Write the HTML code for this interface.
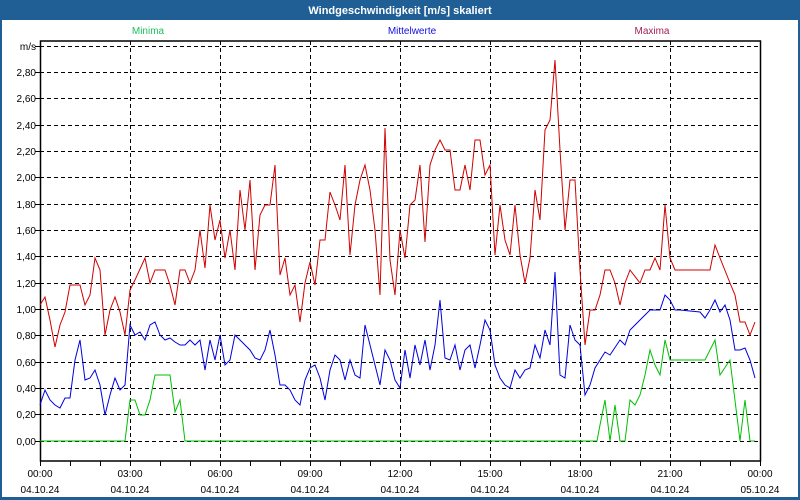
<!DOCTYPE html>
<html><head><meta charset="utf-8"><style>
body{margin:0;width:800px;height:500px;overflow:hidden;background:#fff;}
svg{display:block;font-family:"Liberation Sans",sans-serif;}
</style></head><body>
<svg width="800" height="500" viewBox="0 0 800 500">
<rect x="0" y="0" width="800" height="500" fill="#1f5f96"/>
<rect x="2" y="20" width="796" height="477" fill="#fff"/>
<text x="400" y="14" fill="#fff" font-size="11" font-weight="bold" text-anchor="middle">Windgeschwindigkeit [m/s] skaliert</text>
<text x="148" y="34" fill="#20c060" font-size="10" text-anchor="middle">Minima</text>
<text x="412" y="34" fill="#1010e0" font-size="10" text-anchor="middle">Mittelwerte</text>
<text x="652" y="34" fill="#a0205a" font-size="10" text-anchor="middle">Maxima</text>
<g stroke="#000" stroke-width="1" stroke-dasharray="4,3" fill="none">
<line x1="40" y1="46.5" x2="758" y2="46.5"/>
<line x1="40" y1="72.5" x2="758" y2="72.5"/>
<line x1="40" y1="98.5" x2="758" y2="98.5"/>
<line x1="40" y1="125.5" x2="758" y2="125.5"/>
<line x1="40" y1="151.5" x2="758" y2="151.5"/>
<line x1="40" y1="177.5" x2="758" y2="177.5"/>
<line x1="40" y1="204.5" x2="758" y2="204.5"/>
<line x1="40" y1="230.5" x2="758" y2="230.5"/>
<line x1="40" y1="256.5" x2="758" y2="256.5"/>
<line x1="40" y1="283.5" x2="758" y2="283.5"/>
<line x1="40" y1="309.5" x2="758" y2="309.5"/>
<line x1="40" y1="335.5" x2="758" y2="335.5"/>
<line x1="40" y1="362.5" x2="758" y2="362.5"/>
<line x1="40" y1="388.5" x2="758" y2="388.5"/>
<line x1="40" y1="414.5" x2="758" y2="414.5"/>
<line x1="40" y1="441.5" x2="758" y2="441.5"/>
<line x1="130.5" y1="41" x2="130.5" y2="461"/>
<line x1="220.5" y1="41" x2="220.5" y2="461"/>
<line x1="310.5" y1="41" x2="310.5" y2="461"/>
<line x1="400.5" y1="41" x2="400.5" y2="461"/>
<line x1="490.5" y1="41" x2="490.5" y2="461"/>
<line x1="580.5" y1="41" x2="580.5" y2="461"/>
<line x1="670.5" y1="41" x2="670.5" y2="461"/>
</g>
<rect x="40.5" y="41" width="720" height="420" fill="none" stroke="#000" stroke-width="1.5"/>
<g stroke="#000">
<line x1="40.5" y1="461" x2="40.5" y2="466"/><line x1="70.5" y1="461" x2="70.5" y2="466"/><line x1="100.5" y1="461" x2="100.5" y2="466"/><line x1="130.5" y1="461" x2="130.5" y2="466"/><line x1="160.5" y1="461" x2="160.5" y2="466"/><line x1="190.5" y1="461" x2="190.5" y2="466"/><line x1="220.5" y1="461" x2="220.5" y2="466"/><line x1="250.5" y1="461" x2="250.5" y2="466"/><line x1="280.5" y1="461" x2="280.5" y2="466"/><line x1="310.5" y1="461" x2="310.5" y2="466"/><line x1="340.5" y1="461" x2="340.5" y2="466"/><line x1="370.5" y1="461" x2="370.5" y2="466"/><line x1="400.5" y1="461" x2="400.5" y2="466"/><line x1="430.5" y1="461" x2="430.5" y2="466"/><line x1="460.5" y1="461" x2="460.5" y2="466"/><line x1="490.5" y1="461" x2="490.5" y2="466"/><line x1="520.5" y1="461" x2="520.5" y2="466"/><line x1="550.5" y1="461" x2="550.5" y2="466"/><line x1="580.5" y1="461" x2="580.5" y2="466"/><line x1="610.5" y1="461" x2="610.5" y2="466"/><line x1="640.5" y1="461" x2="640.5" y2="466"/><line x1="670.5" y1="461" x2="670.5" y2="466"/><line x1="700.5" y1="461" x2="700.5" y2="466"/><line x1="730.5" y1="461" x2="730.5" y2="466"/><line x1="760.5" y1="461" x2="760.5" y2="466"/>
<line x1="35" y1="46.5" x2="40" y2="46.5"/><line x1="35" y1="72.5" x2="40" y2="72.5"/><line x1="35" y1="98.5" x2="40" y2="98.5"/><line x1="35" y1="125.5" x2="40" y2="125.5"/><line x1="35" y1="151.5" x2="40" y2="151.5"/><line x1="35" y1="177.5" x2="40" y2="177.5"/><line x1="35" y1="204.5" x2="40" y2="204.5"/><line x1="35" y1="230.5" x2="40" y2="230.5"/><line x1="35" y1="256.5" x2="40" y2="256.5"/><line x1="35" y1="283.5" x2="40" y2="283.5"/><line x1="35" y1="309.5" x2="40" y2="309.5"/><line x1="35" y1="335.5" x2="40" y2="335.5"/><line x1="35" y1="362.5" x2="40" y2="362.5"/><line x1="35" y1="388.5" x2="40" y2="388.5"/><line x1="35" y1="414.5" x2="40" y2="414.5"/><line x1="35" y1="441.5" x2="40" y2="441.5"/>
</g>
<g font-size="10" fill="#000" text-anchor="end">
<text x="36" y="50">m/s</text><text x="36" y="76">2,80</text><text x="36" y="102">2,60</text><text x="36" y="129">2,40</text><text x="36" y="155">2,20</text><text x="36" y="181">2,00</text><text x="36" y="208">1,80</text><text x="36" y="234">1,60</text><text x="36" y="260">1,40</text><text x="36" y="287">1,20</text><text x="36" y="313">1,00</text><text x="36" y="339">0,80</text><text x="36" y="366">0,60</text><text x="36" y="392">0,40</text><text x="36" y="418">0,20</text><text x="36" y="445">0,00</text>
</g>
<g font-size="10" fill="#000" text-anchor="middle">
<text x="40" y="477">00:00</text><text x="40" y="493">04.10.24</text>
<text x="130" y="477">03:00</text><text x="130" y="493">04.10.24</text>
<text x="220" y="477">06:00</text><text x="220" y="493">04.10.24</text>
<text x="310" y="477">09:00</text><text x="310" y="493">04.10.24</text>
<text x="400" y="477">12:00</text><text x="400" y="493">04.10.24</text>
<text x="490" y="477">15:00</text><text x="490" y="493">04.10.24</text>
<text x="580" y="477">18:00</text><text x="580" y="493">04.10.24</text>
<text x="670" y="477">21:00</text><text x="670" y="493">04.10.24</text>
<text x="760" y="477">00:00</text><text x="760" y="493">05.10.24</text>
</g>
<polyline fill="none" stroke="#d00000" stroke-width="1" points="40,305 45,297 50,320 55,347 60,325 65,312 70,285 80,285 85,305 90,295 95,258 100,270 105,335 110,310 115,297 120,312 125,335 130,290 135,280 145,258 150,283 155,270 165,270 170,285 175,305 180,270 185,270 190,283 195,270 200,230 205,268 210,205 215,240 220,220 225,258 230,230 235,270 240,190 245,230 250,180 255,270 260,215 265,205 270,205 275,165 280,275 285,258 290,295 295,285 300,322 305,283 310,262 315,285 320,240 325,240 330,192 335,205 340,220 345,165 350,255 355,205 360,180 365,165 370,190 375,230 380,295 385,128 390,260 395,295 400,230 405,258 410,205 415,200 420,165 425,242 430,165 435,150 440,140 445,150 450,150 455,190 460,190 465,165 470,190 475,140 480,140 485,175 490,165 495,255 500,205 505,240 510,255 515,205 520,255 525,283 530,258 535,190 540,220 545,130 550,120 555,60 560,150 565,230 570,180 575,180 580,270 585,345 590,310 595,310 600,295 605,270 610,270 615,283 620,305 625,283 630,270 640,283 645,270 650,270 655,258 660,270 665,205 670,258 675,270 680,270 710,270 715,245 720,258 730,283 735,295 740,322 745,322 750,335 755,322"/>
<polyline fill="none" stroke="#0000e0" stroke-width="1" points="40,405 45,390 50,400 55,405 60,408 65,398 70,398 75,360 80,340 85,380 90,378 95,370 100,385 105,415 110,395 115,378 120,390 125,385 130,325 135,335 140,332 145,340 150,325 155,322 160,335 165,340 170,338 175,342 180,345 185,345 190,340 195,345 200,340 205,370 210,340 215,360 220,335 225,365 230,360 235,335 240,340 245,345 250,350 255,358 260,360 265,350 270,330 275,355 280,385 285,385 290,390 295,400 300,405 305,380 310,368 315,365 320,378 325,400 330,370 335,355 340,360 345,380 350,360 355,375 360,378 365,325 370,345 375,365 380,385 385,350 390,360 395,380 400,388 405,350 410,378 415,345 420,365 425,340 430,370 435,345 440,300 445,358 450,360 455,345 460,370 465,350 470,345 475,368 480,345 485,320 490,330 495,365 500,378 505,385 510,388 515,370 520,378 525,370 530,368 535,345 540,358 545,330 550,345 555,272 560,375 565,378 570,325 575,340 580,345 585,395 590,385 595,368 600,360 605,352 610,355 620,340 625,345 630,330 640,320 650,310 660,310 665,295 670,300 675,310 680,310 700,312 705,318 710,310 715,300 720,312 725,305 730,320 735,350 740,350 745,348 750,360 755,378"/>
<polyline fill="none" stroke="#00c000" stroke-width="1" points="40,441 125,441 130,400 135,400 140,415 145,415 150,400 155,375 170,375 175,412 180,400 185,441 597,441 600,425 605,400 610,441 615,405 620,441 625,441 630,400 635,405 640,395 645,375 650,350 655,365 660,375 665,340 670,360 700,360 705,360 715,340 720,375 730,360 740,441 745,400 750,441 755,441"/>
</svg>
</body></html>
